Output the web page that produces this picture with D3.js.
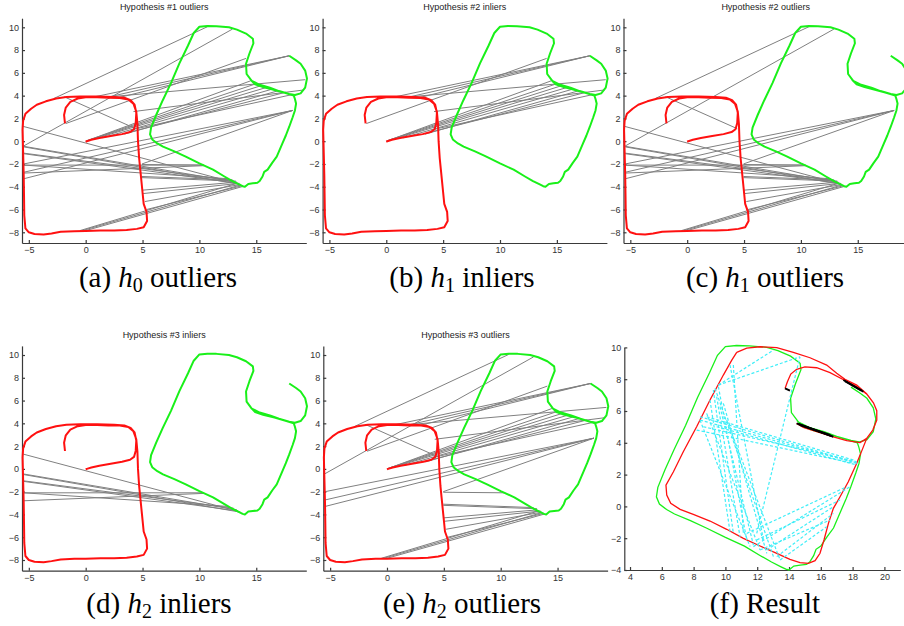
<!DOCTYPE html>
<html>
<head>
<meta charset="utf-8">
<script src="https://cdn.jsdelivr.net/npm/d3@7"></script>
<style>
  body { margin: 0; background: #fff; }
  svg { display: block; }
  .tick text { font-family: "Liberation Sans", Arial, sans-serif; font-size: 9px; fill: #333; }
  .domain, .tick line { stroke: #3a3a3a; stroke-width: 1.2; }
  .title { font-family: "Liberation Sans", Arial, sans-serif; font-size: 9px; fill: #222; }
  .caption { font-family: "Liberation Serif", serif; font-size: 29px; fill: #000; }
</style>
</head>
<body>
<svg id="chart" width="904" height="626"></svg>
<script>
// trajectories (metres)
const redTrack = [[-1.82, 1.57], [-1.9, 2.3], [-1.75, 2.95], [-1.35, 3.45], [-0.7, 3.75], [0, 3.85], [1.0, 3.85],
  [2.0, 3.82], [3.0, 3.8], [3.75, 3.67], [4.2, 3.3], [4.45, 2.6], [4.55, 1.5], [4.6, 0], [4.7, -1.5], [4.8, -2.5],
  [4.95, -4.0], [5.1, -5.5], [5.35, -6.2], [5.4, -7.0], [5.1, -7.55], [4.5, -7.7], [3.6, -7.8], [2.5, -7.85],
  [1.3, -7.85], [0, -7.88], [-1.0, -7.9], [-2.2, -7.95], [-3.0, -8.1], [-3.7, -8.2], [-4.5, -8.15], [-5.0, -8.0],
  [-5.3, -7.65], [-5.4, -6.5], [-5.42, -5], [-5.45, -3], [-5.5, -1], [-5.55, 1], [-5.5, 1.8], [-5.3, 2.4],
  [-4.8, 2.85], [-4.3, 3.2], [-3.5, 3.5], [-2.6, 3.75], [-1.7, 3.88], [-0.5, 3.92], [1, 3.92], [2.5, 3.88],
  [3.4, 3.82], [3.95, 3.6], [4.3, 3.2], [4.45, 2.5], [4.4, 1.6], [4.25, 1.05], [3.9, 0.8], [3.2, 0.62],
  [2.2, 0.45], [1.2, 0.28], [0.5, 0.12], [0.1, 0.0], [0, -0.05]];

const greenTrack = [[17.9, 7.5], [18.5, 7.1], [18.9, 6.8], [19.3, 6.2], [19.46, 5.5], [19.3, 4.7], [18.9, 4.2],
  [18.4, 4.05], [17.9, 4.15], [17.0, 4.4], [16.2, 4.7], [15.3, 4.95], [14.6, 5.3], [14.15, 5.9], [14.1, 6.8],
  [14.4, 7.7], [14.75, 8.6], [14.7, 9.0], [14.1, 9.45], [13.3, 9.8], [12.6, 10.0], [11.5, 10.1], [10.7, 10.12],
  [10.0, 10.05], [9.5, 9.5], [9.0, 8.4], [8.24, 6.83], [7.5, 5.1], [6.78, 3.6], [6.2, 2.3], [5.75, 1.2],
  [5.66, 0.6], [5.85, 0.15], [6.3, -0.2], [6.8, -0.48], [7.8, -0.9], [8.8, -1.36], [10, -1.95], [11.2, -2.5],
  [12.2, -3.1], [12.9, -3.5], [13.5, -3.8], [13.8, -3.95], [14.0, -4.0], [14.3, -3.75], [14.7, -3.7],
  [15.1, -3.65], [15.3, -3.5], [15.55, -3.1], [15.7, -2.7], [16.0, -2.5], [16.4, -1.9], [16.8, -1.36],
  [17.3, -0.2], [17.6, 0.5], [17.9, 1.27], [18.2, 2.1], [18.4, 2.7], [18.5, 3.3], [18.4, 3.7], [18.3, 4.0],
  [17.5, 4.25], [16.6, 4.5], [15.6, 4.75], [14.9, 5.0], [14.5, 5.4]];

// result panel: red trajectory after alignment
const resultRedOuter = [[10.71, 9.69], [11.34, 9.96], [12.18, 10.04], [13.23, 9.98], [14.27, 9.69], [15.32, 9.35],
  [16.37, 8.89], [17.0, 8.37], [17.52, 7.99], [18.26, 7.63], [18.89, 7.07], [19.31, 6.52], [19.52, 6.02],
  [19.52, 5.43], [19.27, 4.8], [18.89, 4.28], [18.64, 3.65], [18.26, 2.71], [17.73, 1.55], [17.21, 0.61],
  [16.79, -0.12], [16.48, -1.07], [16.2, -2.11], [15.95, -2.95], [15.64, -3.41], [15.22, -3.58], [14.69, -3.54],
  [14.06, -3.33], [13.23, -2.95], [12.18, -2.49], [11.13, -2.01], [10.08, -1.44], [9.03, -0.92], [7.98, -0.5],
  [7.15, -0.19], [6.56, 0.19], [6.31, 0.71], [6.26, 1.34], [6.73, 2.18], [7.35, 3.44], [8.19, 5.01],
  [9.03, 6.69], [9.87, 8.26], [10.4, 9.2], [10.71, 9.69]];
const resultRedInnerTop = [[13.75, 7.42], [13.9, 7.84], [14.11, 8.32], [14.48, 8.62], [15.0, 8.78], [15.74, 8.72],
  [16.58, 8.41], [17.31, 8.03], [18.26, 7.53], [18.89, 7.07]];
const resultRedInnerBottom = [[18.89, 4.28], [18.47, 4.01], [17.63, 4.13], [16.79, 4.38], [15.74, 4.7],
  [14.9, 4.97], [14.48, 5.22]];

// correspondences [red x, red y, green x, green y]
const inliersH1 = [[-1.75, 1.55, 14.1, 7.27], [0.8, 3.9, 17.9, 7.5], [2.0, 3.88, 17.9, 7.5], [3.0, 3.85, 17.9, 7.5],
  [2.1, 3.9, 19.3, 5.4], [4.2, 2.6, 19.2, 4.5], [0, 0, 14.5, 5.3], [0.1, 0.05, 15.0, 5.05], [0.3, 0.1, 15.5, 4.9],
  [0.6, 0.15, 16.0, 4.75], [1.5, 0.3, 16.5, 4.6], [3.4, 0.62, 17.0, 4.45], [3.9, 0.8, 17.6, 4.3],
  [4.25, 1.05, 18.2, 4.1]];
const inliersH2 = [[-5.5, 1.3, 13.5, -3.75], [-5.45, -0.45, 13.3, -3.6], [-5.45, -0.5, 13.6, -3.8],
  [-5.45, -1.05, 13.0, -3.45], [-5.45, -1.1, 13.4, -3.7], [-5.45, -2.1, 10.4, -2.1], [-5.45, -2.8, 10.4, -2.15],
  [-5.45, -2.1, 12.6, -3.3]];
const otherMatches = [[-2.8, 3.75, 10.7, 10.05], [-5.45, -0.42, 12.9, 9.84], [-1.9, 3.9, 4.4, 1.1],
  [-5.45, -2.0, 18.2, 2.7], [-5.45, -2.73, 18.2, 2.7], [-5.45, -3.3, 18.2, 2.7], [4.95, -2.0, 18.2, 2.7],
  [5.0, -4.3, 13.2, -3.6], [5.05, -4.6, 13.5, -3.7], [5.2, -5.3, 13.6, -3.8], [5.35, -6.0, 13.8, -3.9],
  [-0.5, -7.85, 13.3, -3.7], [-0.3, -7.85, 13.6, -3.85], [0, -7.85, 13.9, -3.95], [4.95, -2.05, 10.4, -2.1],
  [4.95, -3.1, 12.9, -3.4], [4.95, -3.2, 13.2, -3.5]];

const resultCyan = [[9.56, 7.63, 14.69, 9.41], [9.56, 7.63, 13.02, 9.83], [11.97, -1.70, 14.69, 9.41],
  [9.24, 7.32, 10.50, -1.70], [9.45, 6.90, 10.92, -1.91], [9.56, 7.53, 11.34, -2.11], [9.66, 6.27, 11.76, -2.43],
  [9.03, 6.69, 10.29, -1.59], [8.82, 5.85, 12.18, -2.74], [9.87, 6.48, 12.60, -2.95], [8.40, 5.43, 11.55, -2.53],
  [9.35, 7.42, 13.02, -3.16], [10.08, 5.43, 13.44, -3.37], [10.29, 8.89, 12.39, -2.11], [10.50, 8.89, 11.13, -1.70],
  [8.40, 5.43, 18.26, 2.71], [8.61, 5.01, 18.26, 2.81], [8.82, 5.64, 18.05, 2.92], [8.19, 4.80, 18.05, 2.71],
  [9.45, 5.01, 18.26, 2.60], [8.40, 5.64, 18.36, 2.71], [11.34, -1.70, 17.63, 1.24], [11.97, -2.11, 17.21, 0.40],
  [12.60, -2.74, 16.79, -0.02], [13.23, -3.16, 16.79, -0.44], [12.18, -2.74, 16.58, -0.86],
  [13.44, -3.37, 16.37, -1.28], [11.76, -2.53, 17.84, 1.24]];
const resultBlack = [[17.42, 7.95, 18.68, 7.21], [17.52, 7.88, 18.57, 7.28], [14.48, 5.22, 16.79, 4.38],
  [14.69, 5.12, 16.58, 4.49], [14.6, 5.18, 16.7, 4.42], [13.75, 7.42, 14.06, 7.28]];

const trackXTicks = [-5, 0, 5, 10, 15];
const trackYTicks = [-8, -6, -4, -2, 0, 2, 4, 6, 8, 10];
const resultXTicks = [4, 6, 8, 10, 12, 14, 16, 18, 20];
const resultYTicks = [-4, -2, 0, 2, 4, 6, 8, 10];

const titles = ['Hypothesis #1 outliers', 'Hypothesis #2 inliers', 'Hypothesis #2 outliers',
  'Hypothesis #3 inliers', 'Hypothesis #3 outliers', ''];
const captions = [['(a) ', '0', ' outliers'], ['(b) ', '1', ' inliers'], ['(c) ', '1', ' outliers'],
  ['(d) ', '2', ' inliers'], ['(e) ', '2', ' outliers'], ['(f) Result', null, '']];

const svg = d3.select('#chart');

/* ---------- layout ---------- */
const trackDomX = [-5.6, 19.4];
const trackDomY = [-8.94, 10.8];
const trackW = 284.3;
const trackH = 224.8;
const panels = [
  { left: 22, top: 18.2, lines: inliersH1.concat(inliersH2, otherMatches), capX: 158, capY: 287 },
  { left: 322.6, top: 18.2, lines: inliersH1, capX: 462, capY: 287 },
  { left: 623.5, top: 18.2, lines: inliersH2.concat(otherMatches), capX: 765, capY: 287 },
  { left: 22, top: 345.9, lines: inliersH2, capX: 159, capY: 613 },
  { left: 323.3, top: 345.9, lines: inliersH1.concat(otherMatches), capX: 462, capY: 613 },
];

const line = (x, y) => d3.line().x((d) => x(d[0])).y((d) => y(d[1]));

function drawAxes(g, x, y, xt, yt, bottom, left) {
  g.append('g').attr('transform', `translate(0,${bottom})`)
    .call(d3.axisBottom(x).tickValues(xt).tickSizeInner(-3).tickSizeOuter(0).tickPadding(4));
  g.append('g').attr('transform', `translate(${left},0)`)
    .call(d3.axisLeft(y).tickValues(yt).tickSizeInner(-3).tickSizeOuter(0).tickPadding(3));
}

function drawMatches(g, x, y, data, color, width, dash) {
  g.append('g').selectAll('line')
    .data(data)
    .enter()
    .append('line')
    .attr('x1', (d) => x(d[0]))
    .attr('y1', (d) => y(d[1]))
    .attr('x2', (d) => x(d[2]))
    .attr('y2', (d) => y(d[3]))
    .attr('stroke', color)
    .attr('stroke-width', width)
    .attr('stroke-dasharray', dash);
}

panels.forEach((p, i) => {
  const g = svg.append('g');
  const x = d3.scaleLinear().domain(trackDomX).range([p.left, p.left + trackW]);
  const y = d3.scaleLinear().domain(trackDomY).range([p.top + trackH, p.top]);

  drawAxes(g, x, y, trackXTicks, trackYTicks, p.top + trackH, p.left);
  drawMatches(g, x, y, p.lines, '#808080', 1, null);

  g.append('path').datum(redTrack).attr('d', line(x, y))
    .attr('fill', 'none').attr('stroke', '#ff1010').attr('stroke-width', 2).attr('stroke-linejoin', 'round');
  g.append('path').datum(greenTrack).attr('d', line(x, y))
    .attr('fill', 'none').attr('stroke', '#19f019').attr('stroke-width', 2).attr('stroke-linejoin', 'round');

  g.append('text').attr('class', 'title')
    .attr('x', p.left + trackW / 2)
    .attr('y', p.top - 8)
    .attr('text-anchor', 'middle')
    .text(titles[i]);
});

/* ---------- result panel ---------- */
{
  const g = svg.append('g');
  const x = d3.scaleLinear().domain([3.64, 21.0]).range([624.3, 900.3]);
  const y = d3.scaleLinear().domain([-4, 10]).range([570, 347.4]);
  drawAxes(g, x, y, resultXTicks, resultYTicks, 570, 624.3);

  g.append('path').datum(greenTrack).attr('d', line(x, y))
    .attr('fill', 'none').attr('stroke', '#19f019').attr('stroke-width', 1.3);
  [resultRedOuter, resultRedInnerTop, resultRedInnerBottom].forEach((seg) => {
    g.append('path').datum(seg).attr('d', line(x, y))
      .attr('fill', 'none').attr('stroke', '#ff1010').attr('stroke-width', 1.3);
  });
  drawMatches(g, x, y, resultCyan, '#40eef8', 1.2, '3,2');
  drawMatches(g, x, y, resultBlack, '#000', 2, null);
}

/* ---------- captions ---------- */
panels.concat([{ capX: 765, capY: 613 }]).forEach((p, i) => {
  const c = captions[i];
  const t = svg.append('text').attr('class', 'caption')
    .attr('x', p.capX).attr('y', p.capY).attr('text-anchor', 'middle');
  t.append('tspan').text(c[0]);
  if (c[1] !== null) {
    t.append('tspan').attr('font-style', 'italic').text('h');
    t.append('tspan').attr('font-size', 20).attr('dy', 5).text(c[1]);
    t.append('tspan').attr('dy', -5).text(c[2]);
  }
});
</script>
</body>
</html>
